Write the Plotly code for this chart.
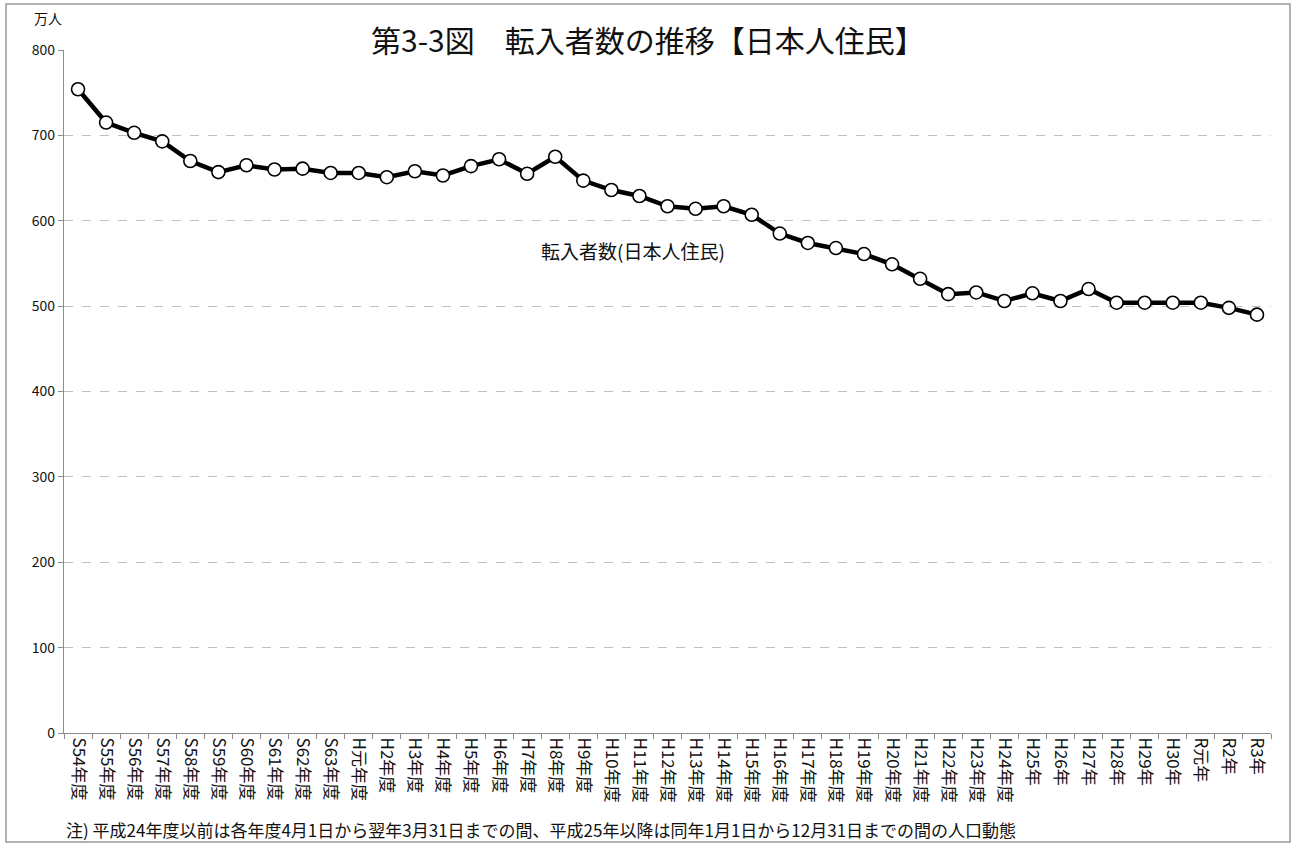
import plotly.graph_objects as go

categories = [
    "S54年度", "S55年度", "S56年度", "S57年度", "S58年度", "S59年度", "S60年度", "S61年度",
    "S62年度", "S63年度", "H元年度", "H2年度", "H3年度", "H4年度", "H5年度", "H6年度",
    "H7年度", "H8年度", "H9年度", "H10年度", "H11年度", "H12年度", "H13年度", "H14年度",
    "H15年度", "H16年度", "H17年度", "H18年度", "H19年度", "H20年度", "H21年度", "H22年度",
    "H23年度", "H24年度", "H25年", "H26年", "H27年", "H28年", "H29年", "H30年",
    "R元年", "R2年", "R3年",
]
values = [
    754, 715, 703, 693, 670, 657, 665, 660,
    661, 656, 656, 651, 658, 653, 664, 672,
    655, 675, 647, 636, 629, 617, 614, 617,
    607, 585, 574, 568, 561, 549, 532, 514,
    516, 506, 515, 506, 520, 504, 504, 504,
    504, 498, 490,
]
y_ticks = [0, 100, 200, 300, 400, 500, 600, 700, 800]

title_text = "第3-3図　転入者数の推移【日本人住民】"
unit_text = "万人"
series_label = "転入者数(日本人住民)"
note_text = "注) 平成24年度以前は各年度4月1日から翌年3月31日までの間、平成25年以降は同年1月1日から12月31日までの間の人口動態"

FONT = "Noto Sans CJK JP"
W, H = 1297, 843
L, R, T, B = 64, 26, 50, 110
PW = W - L - R
PH = H - T - B


def px(xp):
    return (xp - L) / PW


def py(yp):
    return (H - B - yp) / PH


fig = go.Figure()
fig.add_trace(go.Scatter(
    x=categories, y=values, mode="lines+markers",
    line=dict(color="black", width=4.5),
    marker=dict(symbol="circle", size=13, color="white",
                line=dict(color="black", width=1.6)),
    showlegend=False, hoverinfo="x+y",
))

fig.update_layout(
    width=W, height=H,
    margin=dict(l=L, r=R, t=T, b=B),
    paper_bgcolor="white", plot_bgcolor="white",
    font=dict(family=FONT, color="#111111"),
    xaxis=dict(
        type="category", range=[-0.5, len(categories) - 0.5],
        showgrid=False, showline=True, linecolor="#8c8c8c", linewidth=1.3,
        ticks="outside", ticklen=5, tickcolor="#8c8c8c", tickson="boundaries",
        tickangle=90, tickfont=dict(family=FONT, size=17, color="#111111"),
        zeroline=False,
    ),
    yaxis=dict(
        range=[0, 800], tickvals=y_ticks,
        showgrid=True, gridcolor="#bfbfbf", griddash="dash", gridwidth=1,
        showline=True, linecolor="#8c8c8c", linewidth=1.3,
        ticks="outside", ticklen=5, tickcolor="#8c8c8c",
        tickfont=dict(family=FONT, size=14, color="#111111"),
        zeroline=False,
    ),
    shapes=[dict(
        type="rect", xref="paper", yref="paper",
        x0=px(6), x1=px(1290), y0=py(842), y1=py(4),
        line=dict(color="#9a9a9a", width=1.5), fillcolor="rgba(0,0,0,0)", layer="above",
    )],
    annotations=[
        dict(text=title_text, xref="paper", yref="paper", x=px(648), y=py(39),
             xanchor="center", yanchor="middle", showarrow=False,
             font=dict(family=FONT, size=30, color="#111111"),
             bgcolor="white", borderpad=2),
        dict(text=unit_text, xref="paper", yref="paper", x=px(48), y=py(18),
             xanchor="center", yanchor="middle", showarrow=False,
             font=dict(family=FONT, size=14, color="#111111")),
        dict(text=series_label, xref="paper", yref="paper", x=px(633), y=py(250),
             xanchor="center", yanchor="middle", showarrow=False,
             font=dict(family=FONT, size=19, color="#111111")),
        dict(text=note_text, xref="paper", yref="paper", x=px(64), y=py(829),
             xanchor="left", yanchor="middle", showarrow=False,
             font=dict(family=FONT, size=17, color="#111111")),
    ],
)

fig.write_html("out.html", config={"displayModeBar": False},
               post_script="document.body.style.margin='0';document.body.style.padding='0';")
